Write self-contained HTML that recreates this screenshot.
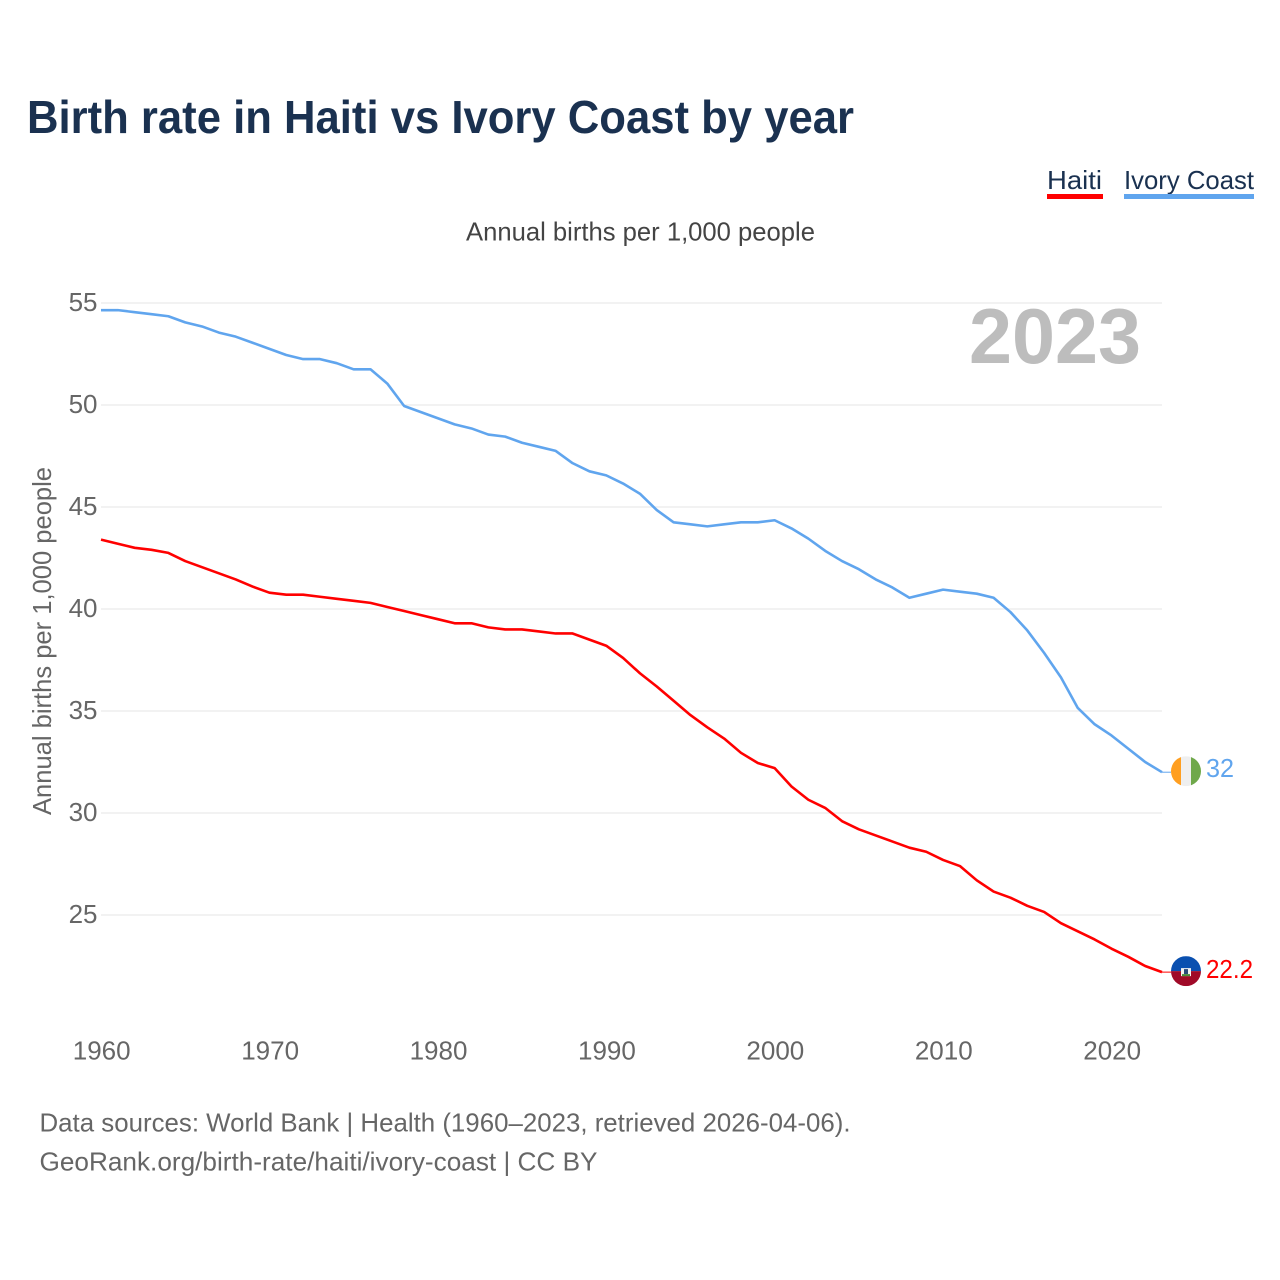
<!DOCTYPE html>
<html lang="en">
<head>
<meta charset="utf-8">
<title>Birth rate in Haiti vs Ivory Coast by year</title>
<style>
html,body{margin:0;padding:0;background:#fff;width:1280px;height:1280px;overflow:hidden}
svg{display:block}
text{font-family:"Liberation Sans",sans-serif}
</style>
</head>
<body>
<svg id="chart" xmlns="http://www.w3.org/2000/svg" width="1280" height="1280" viewBox="0 0 1280 1280">
  <defs>
    <clipPath id="clip-ci"><circle id="clip-ci-circle" cx="1186" cy="771" r="15"/></clipPath>
    <clipPath id="clip-ht"><circle id="clip-ht-circle" cx="1186" cy="971" r="15"/></clipPath>
  </defs>
  <text x="27" y="133" font-size="46" font-weight="700" fill="#1a3150" textLength="827" lengthAdjust="spacingAndGlyphs">Birth rate in Haiti vs Ivory Coast by year</text>
  <g>
    <g>
      <text x="1047" y="189" font-size="26" fill="#1a3150" textLength="55" lengthAdjust="spacingAndGlyphs">Haiti</text>
      <rect x="1047" y="194" width="56" height="5" fill="#ff0000"/>
    </g>
    <g>
      <text x="1124" y="189" font-size="26" fill="#1a3150" textLength="130" lengthAdjust="spacingAndGlyphs">Ivory Coast</text>
      <rect x="1124" y="194" width="130" height="5" fill="#60a5ee"/>
    </g>
  </g>
  <text x="466" y="240.5" font-size="26" fill="#444444" textLength="349" lengthAdjust="spacingAndGlyphs">Annual births per 1,000 people</text>
  <g id="grid"></g>
  <text x="969" y="363" font-size="78" font-weight="700" fill="#bdbdbd" textLength="172" lengthAdjust="spacingAndGlyphs">2023</text>
  <g id="yticks"></g>
  <g id="xticks"></g>
  <text transform="translate(51,815) rotate(-90)" font-size="26" fill="#666666" textLength="348" lengthAdjust="spacingAndGlyphs">Annual births per 1,000 people</text>
  <g id="series"></g>
  <g id="flag-ci" clip-path="url(#clip-ci)"></g>
  <g id="flag-ht" clip-path="url(#clip-ht)"></g>
  <g id="endlabels"></g>
  <text x="39.5" y="1131.5" font-size="26" fill="#666666" textLength="811" lengthAdjust="spacingAndGlyphs">Data sources: World Bank | Health (1960–2023, retrieved 2026-04-06).</text>
  <text x="39.5" y="1170.5" font-size="26" fill="#666666" textLength="558" lengthAdjust="spacingAndGlyphs">GeoRank.org/birth-rate/haiti/ivory-coast | CC BY</text>
</svg>
<script>
var years = [1960,1961,1962,1963,1964,1965,1966,1967,1968,1969,1970,1971,1972,1973,1974,1975,1976,1977,1978,1979,1980,1981,1982,1983,1984,1985,1986,1987,1988,1989,1990,1991,1992,1993,1994,1995,1996,1997,1998,1999,2000,2001,2002,2003,2004,2005,2006,2007,2008,2009,2010,2011,2012,2013,2014,2015,2016,2017,2018,2019,2020,2021,2022,2023];
var haitiValues = [43.4,43.2,43.0,42.9,42.75,42.35,42.05,41.75,41.45,41.1,40.8,40.7,40.7,40.6,40.5,40.4,40.3,40.1,39.9,39.7,39.5,39.3,39.3,39.1,39.0,39.0,38.9,38.8,38.8,38.5,38.2,37.6,36.85,36.2,35.5,34.8,34.2,33.65,32.95,32.45,32.2,31.3,30.65,30.25,29.6,29.2,28.9,28.6,28.3,28.1,27.7,27.4,26.7,26.15,25.85,25.45,25.15,24.6,24.2,23.8,23.35,22.95,22.5,22.2];
var ivoryCoastValues = [54.65,54.65,54.55,54.45,54.35,54.05,53.85,53.55,53.35,53.05,52.75,52.45,52.25,52.25,52.05,51.75,51.75,51.05,49.95,49.65,49.35,49.05,48.85,48.55,48.45,48.15,47.95,47.75,47.15,46.75,46.55,46.15,45.65,44.85,44.25,44.15,44.05,44.15,44.25,44.25,44.35,43.95,43.45,42.85,42.35,41.95,41.45,41.05,40.55,40.75,40.95,40.85,40.75,40.55,39.85,38.95,37.85,36.65,35.15,34.35,33.8,33.15,32.5,32.0];
var yTickValues = [25,30,35,40,45,50,55];
var xTickValues = [1960,1970,1980,1990,2000,2010,2020];

var NS = 'http://www.w3.org/2000/svg';
var HAITI_COLOR = '#ff0000';
var IVORY_COLOR = '#60a5ee';

function xScale(year) { return 101 + (year - 1960) * (1162 - 101) / 63; }
function yScale(value) { return 915 - (value - 25) * 20.4; }
function mk(tag, parent) {
  var el = document.createElementNS(NS, tag);
  parent.appendChild(el);
  return el;
}
function attrs(el, obj) {
  for (var k in obj) { el.setAttribute(k, obj[k]); }
  return el;
}

var gridG = document.getElementById('grid');
var yG = document.getElementById('yticks');
yTickValues.forEach(function (v) {
  var line = attrs(mk('line', gridG), { x1: 101, x2: 1162, y1: yScale(v), y2: yScale(v), stroke: '#eeeeee', 'stroke-width': 1.6 });
  
  
  var t = attrs(mk('text', yG), { x: 97.5, y: yScale(v) + 8, 'font-size': 26, fill: '#666666', 'text-anchor': 'end' });
  
  
  t.textContent = v;
});

var xG = document.getElementById('xticks');
xTickValues.forEach(function (v) {
  var t = attrs(mk('text', xG), { x: xScale(v) + 0.7, y: 1059.5, 'font-size': 26, fill: '#666666', 'text-anchor': 'middle' });
  
  
  t.textContent = v;
});

function pointsFor(values) {
  return values.map(function (v, i) { return xScale(years[i]).toFixed(2) + ',' + yScale(v).toFixed(2); }).join(' ');
}

var seriesG = document.getElementById('series');
var haitiLine = attrs(mk('polyline', seriesG), { points: pointsFor(haitiValues), fill: 'none', stroke: HAITI_COLOR, 'stroke-width': 2.6, 'stroke-linejoin': 'round' });


var ivoryLine = attrs(mk('polyline', seriesG), { points: pointsFor(ivoryCoastValues), fill: 'none', stroke: IVORY_COLOR, 'stroke-width': 2.6, 'stroke-linejoin': 'round' });



var lastHaiti = haitiValues[haitiValues.length - 1];
var lastIvory = ivoryCoastValues[ivoryCoastValues.length - 1];
var yH = yScale(lastHaiti);
var yI = yScale(lastIvory);

var hConn = attrs(mk('line', seriesG), { x1: 1162, x2: 1171, y1: yH, y2: yH, stroke: HAITI_COLOR, 'stroke-width': 1 });


var iConn = attrs(mk('line', seriesG), { x1: 1162, x2: 1171, y1: yI, y2: yI, stroke: IVORY_COLOR, 'stroke-width': 1 });



document.getElementById('clip-ci-circle').setAttribute('cy', yI - 1);
document.getElementById('clip-ht-circle').setAttribute('cy', yH - 1);

var fc = document.getElementById('flag-ci');
var cy = yI - 1;
attrs(mk('rect', fc), { x: 1171, y: cy - 15, width: 10, height: 30, fill: '#ff9f21' });
attrs(mk('rect', fc), { x: 1181, y: cy - 15, width: 10, height: 30, fill: '#efefef' });
attrs(mk('rect', fc), { x: 1191, y: cy - 15, width: 10, height: 30, fill: '#6fa84a' });

var fh = document.getElementById('flag-ht');
var hy = yH - 1;
attrs(mk('rect', fh), { x: 1171, y: hy - 15, width: 30, height: 15, fill: '#0a50b0' });
attrs(mk('rect', fh), { x: 1171, y: hy, width: 30, height: 15, fill: '#a00a28' });
attrs(mk('rect', fh), { x: 1181, y: hy - 3, width: 10, height: 8, fill: '#f2f2f2' });
attrs(mk('rect', fh), { x: 1184, y: hy - 2, width: 4, height: 5, fill: '#2a4a7a' });
attrs(mk('rect', fh), { x: 1182, y: hy + 3, width: 8, height: 2, fill: '#4a8a3a' });

var labelsG = document.getElementById('endlabels');
var lblI = attrs(mk('text', labelsG), { x: 1206, y: yI + 5, 'font-size': 26, fill: IVORY_COLOR, textLength: 28, lengthAdjust: 'spacingAndGlyphs' });


lblI.textContent = String(lastIvory);
var lblH = attrs(mk('text', labelsG), { x: 1206, y: yH + 6, 'font-size': 26, fill: HAITI_COLOR, textLength: 47, lengthAdjust: 'spacingAndGlyphs' });


lblH.textContent = String(lastHaiti);
</script>
</body>
</html>
